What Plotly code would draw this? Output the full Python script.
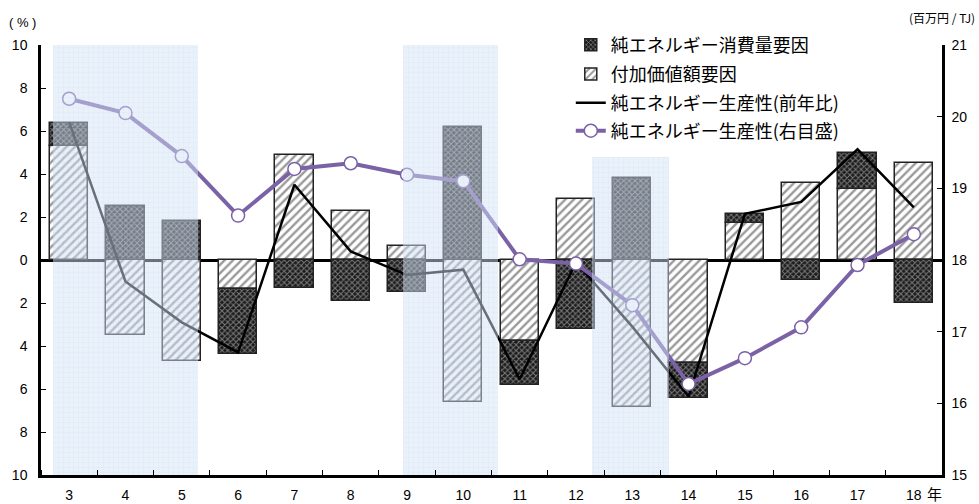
import plotly.graph_objects as go

# Calendar years (Heisei) and factor decomposition of net energy productivity
years = [3, 4, 5, 6, 7, 8, 9, 10, 11, 12, 13, 14, 15, 16, 17, 18]
year_labels = ["3", "4", "5", "6", "7", "8", "9", "10", "11", "12", "13", "14", "15", "16", "17", "18"]

# Value-added factor (%)
value_added = [5.3, -3.5, -4.7, -1.35, 4.9, 2.3, 0.65, -6.6, -3.75, 2.85, -6.85, -4.8, 1.7, 3.6, 3.3, 4.5]
# Net energy consumption factor (%)
energy_use = [1.05, 2.5, 1.8, -3.0, -1.3, -1.9, -1.5, 6.2, -2.05, -3.2, 3.8, -1.6, 0.42, -0.95, 1.7, -2.0]
# Net energy productivity, year-on-year change (%)
productivity_yoy = [6.4, -1.0, -2.9, -4.3, 3.5, 0.4, -0.7, -0.45, -5.55, -0.1, -3.1, -6.35, 2.15, 2.7, 5.15, 2.45]
# Net energy productivity level (million yen / TJ, right axis)
productivity_level = [20.25, 20.05, 19.45, 18.62, 19.27, 19.35, 19.19, 19.10, 18.01, 17.95, 17.37, 16.27, 16.63, 17.06, 17.93, 18.36]

# Recession periods on the year axis: (start, end, upper bound in %)
recession_start = [2.72, 8.93, 12.29]
recession_end = [5.29, 10.62, 13.66]
recession_top = [10, 10, 4.77]

left_ticks = [-10, -8, -6, -4, -2, 0, 2, 4, 6, 8, 10]
left_tick_text = ["10", "8", "6", "4", "2", "0", "2", "4", "6", "8", "10"]
right_ticks = [15, 16, 17, 18, 19, 20, 21]

NUM_FONT = "Liberation Sans, Arial, Noto Sans CJK JP"
JP_FONT = "Noto Sans CJK JP, Liberation Sans"
PURPLE = "#7b62a6"

fig = go.Figure()

# Stacked factor bars (value-added first so it sits next to zero)
fig.add_trace(go.Bar(
    x=years, y=value_added, width=0.68,
    name="付加価値額要因", legend="legend2",
    marker=dict(color="white",
                line=dict(color="#222222", width=1.5),
                pattern=dict(shape="/", fgcolor="#333333", bgcolor="white",
                             size=6, solidity=0.4)),
))
fig.add_trace(go.Bar(
    x=years, y=energy_use, width=0.68,
    name="純エネルギー消費量要因", legend="legend",
    marker=dict(color="#1a1a1a",
                line=dict(color="#222222", width=1.5),
                pattern=dict(shape="x", fgcolor="#d8d8d8", bgcolor="#1a1a1a",
                             size=4, solidity=0.45)),
))

fig.add_trace(go.Scatter(
    x=years, y=productivity_yoy, mode="lines",
    name="純エネルギー生産性(前年比)", legend="legend3",
    line=dict(color="black", width=2.5),
))
fig.add_trace(go.Scatter(
    x=years, y=productivity_level, mode="lines+markers", yaxis="y2",
    name="純エネルギー生産性(右目盛)", legend="legend4",
    line=dict(color=PURPLE, width=4),
    marker=dict(symbol="circle", size=13, color="white",
                line=dict(color=PURPLE, width=1.5)),
))

# Recession shading, drawn on an overlay axis so it lies over bars and lines
shade_x = [(s + e) / 2 for s, e in zip(recession_start, recession_end)]
shade_w = [e - s for s, e in zip(recession_start, recession_end)]
shade_h = [t + 10 for t in recession_top]
fig.add_trace(go.Bar(
    x=shade_x, y=shade_h, base=[-10] * len(shade_x), width=shade_w,
    yaxis="y3", showlegend=False, hoverinfo="skip", opacity=0.5,
    marker=dict(color="#d3e2f4", line=dict(width=0),
                pattern=dict(shape="+", fgcolor="#8fb1de", bgcolor="#d3e2f4",
                             size=5, solidity=0.12)),
))


def legend_box(y_center):
    # one legend entry per box, centred on the given paper y
    return dict(
        x=0.588, y=y_center, xanchor="left", yanchor="middle",
        bgcolor="rgba(0,0,0,0)", borderwidth=0,
        font=dict(family=JP_FONT, size=18, color="black"),
        itemwidth=30,
    )


fig.update_layout(
    width=979, height=504,
    margin=dict(l=41, r=37, t=45, b=29),
    paper_bgcolor="white", plot_bgcolor="white",
    barmode="relative", bargap=0,
    font=dict(family=NUM_FONT, size=14, color="black"),
    showlegend=True,
    legend=legend_box(1.0),
    legend2=legend_box(0.932),
    legend3=legend_box(0.865),
    legend4=legend_box(0.8),
    xaxis=dict(
        range=[2.5, 18.5], tickmode="array", tickvals=years, ticktext=year_labels,
        ticks="", showgrid=False, zeroline=False, automargin=False,
        showline=True, linecolor="black", linewidth=2.5,
        ticklabelstandoff=5,
        tickfont=dict(family=NUM_FONT, size=14),
        minor=dict(ticks="inside", ticklen=5, tickcolor="black", tickwidth=1.2,
                   tick0=2.5, dtick=1, showgrid=False),
    ),
    yaxis=dict(
        range=[-10, 10], tickmode="array", tickvals=left_ticks, ticktext=left_tick_text,
        ticks="inside", ticklen=5, tickcolor="black", tickwidth=1.2,
        showgrid=False, zeroline=True, zerolinecolor="black", zerolinewidth=2.5,
        showline=True, linecolor="black", linewidth=2.5, automargin=False,
        ticklabelstandoff=8,
        tickfont=dict(family=NUM_FONT, size=14),
    ),
    yaxis2=dict(
        range=[15, 21], overlaying="y", side="right",
        tickmode="array", tickvals=right_ticks,
        ticks="inside", ticklen=5, tickcolor="black", tickwidth=1.2,
        showgrid=False, zeroline=False, automargin=False,
        showline=True, linecolor="black", linewidth=2.5,
        ticklabelstandoff=4,
        tickfont=dict(family=NUM_FONT, size=14),
    ),
    yaxis3=dict(
        range=[-10, 10], overlaying="y", visible=False,
    ),
    annotations=[
        dict(text="( % )", xref="paper", yref="paper", x=-0.021, y=1.052,
             xanchor="center", yanchor="middle", showarrow=False,
             font=dict(family=NUM_FONT, size=13)),
        dict(text="(百万円 / TJ)", xref="paper", yref="paper", x=1.0, y=1.065,
             xanchor="center", yanchor="middle", showarrow=False,
             font=dict(family=JP_FONT, size=12)),
        dict(text="年", xref="x", yref="paper", x=18.37, y=-0.044,
             xanchor="center", yanchor="middle", showarrow=False,
             font=dict(family=JP_FONT, size=15)),
    ],
)

fig.write_html("out.html")
